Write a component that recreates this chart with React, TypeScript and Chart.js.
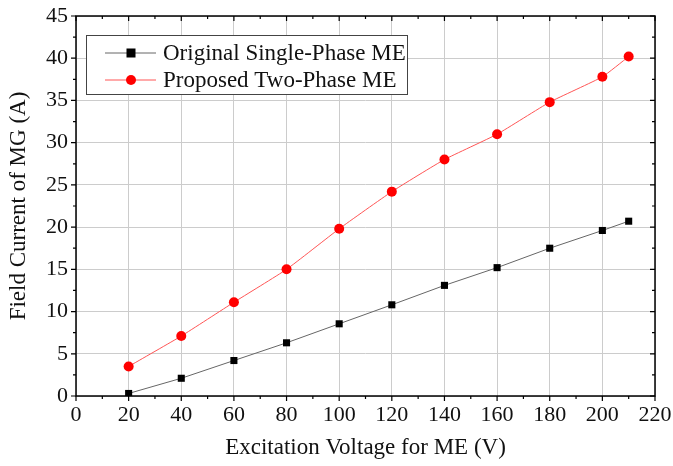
import React, { useEffect, useRef } from "react";
import { Chart, registerables } from "chart.js";

Chart.register(...registerables);

const voltages = [20, 40, 60, 80, 100, 120, 140, 160, 180, 200, 210];
const singlePhase = [0.3, 2.1, 4.2, 6.3, 8.55, 10.8, 13.1, 15.2, 17.5, 19.6, 20.7];
const twoPhase = [3.5, 7.1, 11.1, 15.0, 19.8, 24.2, 28.0, 31.0, 34.8, 37.8, 40.2];
const seriesLabels = ["Original Single-Phase ME", "Proposed Two-Phase ME"];
const xTitle = "Excitation Voltage for ME (V)";
const yTitle = "Field Current of MG (A)";

const FONT = "'Liberation Serif', 'DejaVu Serif', serif";

const framePlugin = {
  id: "frame",
  afterDatasetsDraw(chart: any) {
    const { ctx, chartArea: a, scales } = chart;
    const xs = scales.x;
    const ys = scales.y;
    ctx.save();
    ctx.strokeStyle = "#000";
    ctx.lineWidth = 1.5;
    ctx.strokeRect(a.left, a.top, a.right - a.left, a.bottom - a.top);
    ctx.lineWidth = 1.2;
    for (let v = 0; v <= 220; v += 10) {
      const px = xs.getPixelForValue(v);
      const major = v % 20 === 0;
      const L = major ? 5 : 3;
      ctx.beginPath();
      ctx.moveTo(px, a.bottom);
      ctx.lineTo(px, a.bottom + L);
      ctx.moveTo(px, a.top);
      ctx.lineTo(px, a.top + L);
      ctx.stroke();
    }
    for (let v = 0; v <= 45; v += 2.5) {
      const py = ys.getPixelForValue(v);
      const major = v % 5 === 0;
      const L = major ? 5 : 3;
      ctx.beginPath();
      ctx.moveTo(a.left, py);
      ctx.lineTo(a.left - L, py);
      ctx.moveTo(a.right, py);
      ctx.lineTo(a.right - L, py);
      ctx.stroke();
    }
    ctx.restore();
  },
  afterDraw(chart: any) {
    const { ctx } = chart;
    ctx.save();
    const bx = 86, by = 35, bw = 321, bh = 59;
    ctx.fillStyle = "#fff";
    ctx.fillRect(bx, by, bw, bh);
    ctx.strokeStyle = "#444";
    ctx.lineWidth = 1;
    ctx.strokeRect(bx + 0.5, by + 0.5, bw, bh);
    chart.data.datasets.forEach((ds: any, i: number) => {
      const cy = by + 18 + i * 27;
      ctx.strokeStyle = ds.borderColor;
      ctx.lineWidth = 1;
      ctx.beginPath();
      ctx.moveTo(105, cy);
      ctx.lineTo(156, cy);
      ctx.stroke();
      ctx.fillStyle = ds.pointBackgroundColor;
      if (ds.pointStyle === "rect") {
        ctx.fillRect(131 - 4.5, cy - 4.5, 9, 9);
      } else {
        ctx.beginPath();
        ctx.arc(131, cy, 5, 0, Math.PI * 2);
        ctx.fill();
      }
      ctx.fillStyle = "#111";
      ctx.font = `23px ${FONT}`;
      ctx.textBaseline = "middle";
      ctx.textAlign = "left";
      ctx.fillText(ds.label, 163, cy + 1);
    });
    ctx.restore();
  },
};

export default function App() {
  const ref = useRef<HTMLCanvasElement>(null);
  useEffect(() => {
    if (!ref.current) return;
    const chart = new Chart(ref.current, {
      type: "line",
      data: {
        datasets: [
          {
            label: seriesLabels[0],
            data: voltages.map((v, i) => ({ x: v, y: singlePhase[i] })),
            borderColor: "#666",
            borderWidth: 1,
            pointStyle: "rect",
            pointRadius: 5,
            pointBackgroundColor: "#000",
            pointBorderColor: "#000",
            pointBorderWidth: 0,
          },
          {
            label: seriesLabels[1],
            data: voltages.map((v, i) => ({ x: v, y: twoPhase[i] })),
            borderColor: "#ff5555",
            borderWidth: 1,
            pointStyle: "circle",
            pointRadius: 5,
            pointBackgroundColor: "#ff0000",
            pointBorderColor: "#ff0000",
            pointBorderWidth: 0,
            tension: 0.15,
          },
        ],
      },
      options: {
        animation: false,
        responsive: false,
        layout: { padding: { top: 16, right: 18, left: 0, bottom: 0 } },
        plugins: { legend: { display: false }, tooltip: { enabled: false } },
        scales: {
          x: {
            type: "linear",
            min: 0,
            max: 220,
            ticks: { stepSize: 20, color: "#111", font: { family: FONT, size: 22 }, padding: 1 },
            grid: { color: "#cccccc", lineWidth: 1, drawTicks: true, tickLength: 5, tickColor: "rgba(0,0,0,0)" },
            border: { display: false },
            title: { display: true, text: xTitle, color: "#111", font: { family: FONT, size: 23 }, padding: { top: 7 } },
            afterFit: (s: any) => { s.height = 70; },
          },
          y: {
            type: "linear",
            min: 0,
            max: 45,
            ticks: { stepSize: 5, color: "#111", font: { family: FONT, size: 22 }, padding: 2 },
            grid: { color: "#cccccc", lineWidth: 1, drawTicks: true, tickLength: 6, tickColor: "rgba(0,0,0,0)" },
            border: { display: false },
            title: { display: true, text: yTitle, color: "#111", font: { family: FONT, size: 23 }, padding: { top: 5, bottom: 4 } },
            afterFit: (s: any) => { s.width = 76; },
          },
        },
      },
      plugins: [framePlugin],
    });
    return () => chart.destroy();
  }, []);
  return (
    <div style={{ position: "fixed", left: 0, top: 0, width: 673, height: 466, background: "#fff" }}>
      <canvas ref={ref} width={673} height={466} style={{ width: 673, height: 466 }} />
    </div>
  );
}
